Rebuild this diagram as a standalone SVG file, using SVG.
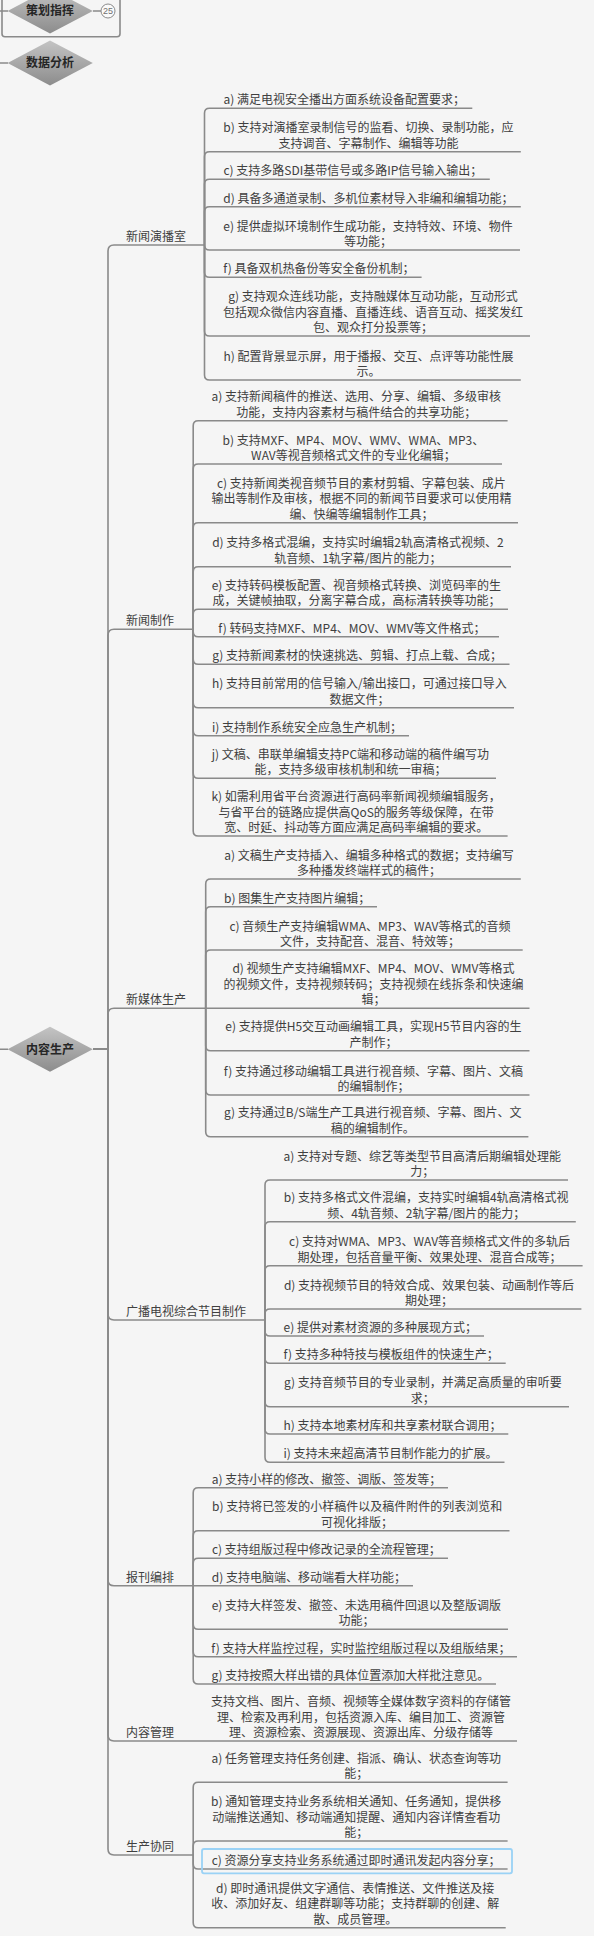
<svg xmlns="http://www.w3.org/2000/svg" width="594" height="1936" viewBox="0 0 594 1936">
<defs>
<linearGradient id="dg" x1="0" y1="0" x2="0" y2="1">
<stop offset="0" stop-color="#c4c4c4"/>
<stop offset="1" stop-color="#8c8c8c"/>
</linearGradient>
<style>
.ln{fill:none;stroke:#8a8a8a;stroke-width:1.6}
.t{font-family:"Noto Sans CJK SC","Noto Sans",sans-serif;font-size:12px;fill:#404040;text-anchor:middle}
.dt{font-family:"Noto Sans CJK SC","Noto Sans",sans-serif;font-size:12px;font-weight:bold;fill:#262626;text-anchor:middle}
.dm{fill:url(#dg)}
</style>
</defs>
<rect width="594" height="1936" fill="#f5f5f5"/>

<g id="connectors">
<rect x="2" y="-20" width="118" height="56.7" rx="3" class="ln" stroke="#9a9a9a"/>
<path class="ln" d="M0 11H8M93 11H101M0 63H8M0 1049.3H8"/>
<!-- trunk -->
<path class="ln" d="M93 1049.3H108V251Q108 245 114 245H204.5"/>
<path class="ln" d="M93 1049.3H108V635.3Q108 629.3 114 629.3H193.2"/>
<path class="ln" d="M93 1049.3H108V1014.3Q108 1008.3 114 1008.3H205.7"/>
<path class="ln" d="M93 1049.3H108V1314Q108 1320 114 1320H265"/>
<path class="ln" d="M93 1049.3H108V1579.7Q108 1585.7 114 1585.7H193.2"/>
<path class="ln" d="M93 1049.3H108V1735Q108 1741 114 1741H517"/>
<path class="ln" d="M93 1049.3H108V1849Q108 1855 114 1855H193.2"/>
<!-- 新闻演播室 -->
<path class="ln" d="M204.5 245V113.3Q204.5 108.3 209.5 108.3H472.3"/>
<path class="ln" d="M204.5 245V156.7Q204.5 151.7 209.5 151.7H520.8"/>
<path class="ln" d="M204.5 245V184.3Q204.5 179.3 209.5 179.3H489.8"/>
<path class="ln" d="M204.5 245V211.7Q204.5 206.7 209.5 206.7H520.8"/>
<path class="ln" d="M204.5 245Q204.5 250 209.5 250H520"/>
<path class="ln" d="M204.5 245V272.3Q204.5 277.3 209.5 277.3H421.6"/>
<path class="ln" d="M204.5 245V331Q204.5 336 209.5 336H530"/>
<path class="ln" d="M204.5 245V375Q204.5 380 209.5 380H520.8"/>
<!-- 新闻制作 -->
<path class="ln" d="M193.2 629.3V425.7Q193.2 420.7 198.2 420.7H507.6"/>
<path class="ln" d="M193.2 629.3V469Q193.2 464 198.2 464H502"/>
<path class="ln" d="M193.2 629.3V527.7Q193.2 522.7 198.2 522.7H518"/>
<path class="ln" d="M193.2 629.3V571.7Q193.2 566.7 198.2 566.7H511"/>
<path class="ln" d="M193.2 629.3V614.3Q193.2 609.3 198.2 609.3H508"/>
<path class="ln" d="M193.2 629.3V631.7Q193.2 636.7 198.2 636.7H499"/>
<path class="ln" d="M193.2 629.3V659.3Q193.2 664.3 198.2 664.3H509.5"/>
<path class="ln" d="M193.2 629.3V702.7Q193.2 707.7 198.2 707.7H514"/>
<path class="ln" d="M193.2 629.3V730.7Q193.2 735.7 198.2 735.7H409"/>
<path class="ln" d="M193.2 629.3V773.3Q193.2 778.3 198.2 778.3H496"/>
<path class="ln" d="M193.2 629.3V831Q193.2 836 198.2 836H507.6"/>
<!-- 新媒体生产 -->
<path class="ln" d="M205.7 1008.3V884Q205.7 879 210.7 879H520.8"/>
<path class="ln" d="M205.7 1008.3V911.7Q205.7 906.7 210.7 906.7H377"/>
<path class="ln" d="M205.7 1008.3V955Q205.7 950 210.7 950H522.7"/>
<path class="ln" d="M205.7 1008.3H529.5"/>
<path class="ln" d="M205.7 1008.3V1045.7Q205.7 1050.7 210.7 1050.7H529.5"/>
<path class="ln" d="M205.7 1008.3V1090Q205.7 1095 210.7 1095H529.5"/>
<path class="ln" d="M205.7 1008.3V1131.7Q205.7 1136.7 210.7 1136.7H528.4"/>
<!-- 广播电视综合节目制作 -->
<path class="ln" d="M265 1320V1185Q265 1180 270 1180H568"/>
<path class="ln" d="M265 1320V1226.7Q265 1221.7 270 1221.7H575.8"/>
<path class="ln" d="M265 1320V1270.7Q265 1265.7 270 1265.7H582.6"/>
<path class="ln" d="M265 1320V1314Q265 1309 270 1309H581.4"/>
<path class="ln" d="M265 1320V1331Q265 1336 270 1336H484"/>
<path class="ln" d="M265 1320V1358.3Q265 1363.3 270 1363.3H505.7"/>
<path class="ln" d="M265 1320V1401.7Q265 1406.7 270 1406.7H569"/>
<path class="ln" d="M265 1320V1429Q265 1434 270 1434H508.3"/>
<path class="ln" d="M265 1320V1457.3Q265 1462.3 270 1462.3H504.5"/>
<!-- 报刊编排 -->
<path class="ln" d="M193.2 1585.7V1492.7Q193.2 1487.7 198.2 1487.7H448"/>
<path class="ln" d="M193.2 1585.7V1535.7Q193.2 1530.7 198.2 1530.7H509.5"/>
<path class="ln" d="M193.2 1585.7V1563.3Q193.2 1558.3 198.2 1558.3H448"/>
<path class="ln" d="M193.2 1585.7H413"/>
<path class="ln" d="M193.2 1585.7V1624.3Q193.2 1629.3 198.2 1629.3H508"/>
<path class="ln" d="M193.2 1585.7V1651.7Q193.2 1656.7 198.2 1656.7H517"/>
<path class="ln" d="M193.2 1585.7V1679Q193.2 1684 198.2 1684H496"/>
<!-- 生产协同 -->
<path class="ln" d="M193.2 1855V1787.3Q193.2 1782.3 198.2 1782.3H507.6"/>
<path class="ln" d="M193.2 1855V1846Q193.2 1841 198.2 1841H507.6"/>
<path class="ln" d="M193.2 1855V1864Q193.2 1869 198.2 1869H507.6"/>
<path class="ln" d="M193.2 1855V1922.7Q193.2 1927.7 198.2 1927.7H505.7"/>
</g>

<g id="n-cehua">
<path class="dm" d="M7.6 11L50 -11.5L92.8 11L50 33.5Z"/>
<text class="dt" x="50" y="15.3">策划指挥</text>
</g>
<g id="n-25">
<circle cx="108" cy="11" r="7" fill="#fafafa" stroke="#8a8a8a" stroke-width="1"/>
<text x="108" y="14" font-family="Liberation Sans, sans-serif" font-size="9" fill="#707070" text-anchor="middle">25</text>
</g>
<g id="n-shuju">
<path class="dm" d="M7.6 63L50 40.5L92.8 63L50 85.5Z"/>
<text class="dt" x="50" y="67.3">数据分析</text>
</g>
<g id="n-neirong">
<path class="dm" d="M7.6 1049.3L50 1026.8L92.8 1049.3L50 1071.8Z"/>
<text class="dt" x="50" y="1053.6">内容生产</text>
</g>

<g id="b-yanbo"><text class="t" x="156" y="241.1">新闻演播室</text></g>
<g id="b-zhizuo"><text class="t" x="150" y="625.4">新闻制作</text></g>
<g id="b-xinmeiti"><text class="t" x="156" y="1004.4">新媒体生产</text></g>
<g id="b-guangbo"><text class="t" x="186" y="1316.1">广播电视综合节目制作</text></g>
<g id="b-baokan"><text class="t" x="150" y="1581.8">报刊编排</text></g>
<g id="b-guanli"><text class="t" x="150" y="1737.1">内容管理</text></g>
<g id="b-xietong"><text class="t" x="150" y="1851.1">生产协同</text></g>

<g id="yb-a"><text class="t" x="344.2" y="104.4">a) 满足电视安全播出方面系统设备配置要求；</text></g>
<g id="yb-b"><text class="t" x="368.4" y="132.3">b) 支持对演播室录制信号的监看、切换、录制功能，应<tspan x="368.4" dy="15.5">支持调音、字幕制作、编辑等功能</tspan></text></g>
<g id="yb-c"><text class="t" x="352.9" y="175.4">c) 支持多路SDI基带信号或多路IP信号输入输出；</text></g>
<g id="yb-d"><text class="t" x="368.4" y="202.8">d) 具备多通道录制、多机位素材导入非编和编辑功能；</text></g>
<g id="yb-e"><text class="t" x="368" y="230.6">e) 提供虚拟环境制作生成功能，支持特效、环境、物件<tspan x="368" dy="15.5">等功能；</tspan></text></g>
<g id="yb-f"><text class="t" x="318.8" y="273.4">f) 具备双机热备份等安全备份机制；</text></g>
<g id="yb-g"><text class="t" x="373" y="301.1">g) 支持观众连线功能，支持融媒体互动功能，互动形式<tspan x="373" dy="15.5">包括观众微信内容直播、直播连线、语音互动、摇奖发红</tspan><tspan x="373" dy="15.5">包、观众打分投票等；</tspan></text></g>
<g id="yb-h"><text class="t" x="368.4" y="360.6">h) 配置背景显示屏，用于播报、交互、点评等功能性展<tspan x="368.4" dy="15.5">示。</tspan></text></g>

<g id="zz-a"><text class="t" x="356.2" y="401.3">a) 支持新闻稿件的推送、选用、分享、编辑、多级审核<tspan x="356.2" dy="15.5">功能，支持内容素材与稿件结合的共享功能；</tspan></text></g>
<g id="zz-b"><text class="t" x="353.4" y="444.6">b) 支持MXF、MP4、MOV、WMV、WMA、MP3、<tspan x="353.4" dy="15.5">WAV等视音频格式文件的专业化编辑；</tspan></text></g>
<g id="zz-c"><text class="t" x="361.4" y="487.8">c) 支持新闻类视音频节目的素材剪辑、字幕包装、成片<tspan x="361.4" dy="15.5">输出等制作及审核，根据不同的新闻节目要求可以使用精</tspan><tspan x="361.4" dy="15.5">编、快编等编辑制作工具；</tspan></text></g>
<g id="zz-d"><text class="t" x="357.9" y="547.3">d) 支持多格式混编，支持实时编辑2轨高清格式视频、2<tspan x="357.9" dy="15.5">轨音频、1轨字幕/图片的能力；</tspan></text></g>
<g id="zz-e"><text class="t" x="356.4" y="589.9">e) 支持转码模板配置、视音频格式转换、浏览码率的生<tspan x="356.4" dy="15.5">成，关键帧抽取，分离字幕合成，高标清转换等功能；</tspan></text></g>
<g id="zz-f"><text class="t" x="351.9" y="632.8">f) 转码支持MXF、MP4、MOV、WMV等文件格式；</text></g>
<g id="zz-g"><text class="t" x="357.1" y="660.4">g) 支持新闻素材的快速挑选、剪辑、打点上载、合成；</text></g>
<g id="zz-h"><text class="t" x="359.4" y="688.3">h) 支持目前常用的信号输入/输出接口，可通过接口导入<tspan x="359.4" dy="15.5">数据文件；</tspan></text></g>
<g id="zz-i"><text class="t" x="306.9" y="731.8">i) 支持制作系统安全应急生产机制；</text></g>
<g id="zz-j"><text class="t" x="350.4" y="758.9">j) 文稿、串联单编辑支持PC端和移动端的稿件编写功<tspan x="350.4" dy="15.5">能，支持多级审核机制和统一审稿；</tspan></text></g>
<g id="zz-k"><text class="t" x="356.2" y="801.1">k) 如需利用省平台资源进行高码率新闻视频编辑服务，<tspan x="356.2" dy="15.5">与省平台的链路应提供高QoS的服务等级保障，在带</tspan><tspan x="356.2" dy="15.5">宽、时延、抖动等方面应满足高码率编辑的要求。</tspan></text></g>

<g id="xm-a"><text class="t" x="369" y="859.6">a) 文稿生产支持插入、编辑多种格式的数据；支持编写<tspan x="369" dy="15.5">多种播发终端样式的稿件；</tspan></text></g>
<g id="xm-b"><text class="t" x="297.1" y="902.8">b) 图集生产支持图片编辑；</text></g>
<g id="xm-c"><text class="t" x="370" y="930.6">c) 音频生产支持编辑WMA、MP3、WAV等格式的音频<tspan x="370" dy="15.5">文件，支持配音、混音、特效等；</tspan></text></g>
<g id="xm-d"><text class="t" x="373.4" y="973.4">d) 视频生产支持编辑MXF、MP4、MOV、WMV等格式<tspan x="373.4" dy="15.5">的视频文件，支持视频转码；支持视频在线拆条和快速编</tspan><tspan x="373.4" dy="15.5">辑；</tspan></text></g>
<g id="xm-e"><text class="t" x="373.4" y="1031.3">e) 支持提供H5交互动画编辑工具，实现H5节目内容的生<tspan x="373.4" dy="15.5">产制作；</tspan></text></g>
<g id="xm-f"><text class="t" x="373.4" y="1075.6">f) 支持通过移动编辑工具进行视音频、字幕、图片、文稿<tspan x="373.4" dy="15.5">的编辑制作；</tspan></text></g>
<g id="xm-g"><text class="t" x="372.8" y="1117.3">g) 支持通过B/S端生产工具进行视音频、字幕、图片、文<tspan x="372.8" dy="15.5">稿的编辑制作。</tspan></text></g>

<g id="gb-a"><text class="t" x="422.3" y="1160.6">a) 支持对专题、综艺等类型节目高清后期编辑处理能<tspan x="422.3" dy="15.5">力；</tspan></text></g>
<g id="gb-b"><text class="t" x="426.2" y="1202.3">b) 支持多格式文件混编，支持实时编辑4轨高清格式视<tspan x="426.2" dy="15.5">频、4轨音频、2轨字幕/图片的能力；</tspan></text></g>
<g id="gb-c"><text class="t" x="429.6" y="1246.3">c) 支持对WMA、MP3、WAV等音频格式文件的多轨后<tspan x="429.6" dy="15.5">期处理，包括音量平衡、效果处理、混音合成等；</tspan></text></g>
<g id="gb-d"><text class="t" x="429" y="1289.6">d) 支持视频节目的特效合成、效果包装、动画制作等后<tspan x="429" dy="15.5">期处理；</tspan></text></g>
<g id="gb-e"><text class="t" x="380.3" y="1332.1">e) 提供对素材资源的多种展现方式；</text></g>
<g id="gb-f"><text class="t" x="391.1" y="1359.4">f) 支持多种特技与模板组件的快速生产；</text></g>
<g id="gb-g"><text class="t" x="422.8" y="1387.3">g) 支持音频节目的专业录制，并满足高质量的审听要<tspan x="422.8" dy="15.5">求；</tspan></text></g>
<g id="gb-h"><text class="t" x="392.4" y="1430.1">h) 支持本地素材库和共享素材联合调用；</text></g>
<g id="gb-i"><text class="t" x="390.5" y="1458.4">i) 支持未来超高清节目制作能力的扩展。</text></g>

<g id="bk-a"><text class="t" x="326.4" y="1483.8">a) 支持小样的修改、撤签、调版、签发等；</text></g>
<g id="bk-b"><text class="t" x="357.1" y="1511.3">b) 支持将已签发的小样稿件以及稿件附件的列表浏览和<tspan x="357.1" dy="15.5">可视化排版；</tspan></text></g>
<g id="bk-c"><text class="t" x="326.4" y="1554.4">c) 支持组版过程中修改记录的全流程管理；</text></g>
<g id="bk-d"><text class="t" x="308.9" y="1581.8">d) 支持电脑端、移动端看大样功能；</text></g>
<g id="bk-e"><text class="t" x="356.4" y="1609.9">e) 支持大样签发、撤签、未选用稿件回退以及整版调版<tspan x="356.4" dy="15.5">功能；</tspan></text></g>
<g id="bk-f"><text class="t" x="360.9" y="1652.8">f) 支持大样监控过程，实时监控组版过程以及组版结果；</text></g>
<g id="bk-g"><text class="t" x="350.4" y="1680.1">g) 支持按照大样出错的具体位置添加大样批注意见。</text></g>

<g id="gl-a"><text class="t" x="360.9" y="1706.1">支持文档、图片、音频、视频等全媒体数字资料的存储管<tspan x="360.9" dy="15.5">理、检索及再利用，包括资源入库、编目加工、资源管</tspan><tspan x="360.9" dy="15.5">理、资源检索、资源展现、资源出库、分级存储等</tspan></text></g>

<g id="xt-a"><text class="t" x="356.2" y="1762.9">a) 任务管理支持任务创建、指派、确认、状态查询等功<tspan x="356.2" dy="15.5">能；</tspan></text></g>
<g id="xt-b"><text class="t" x="356.2" y="1806.1">b) 通知管理支持业务系统相关通知、任务通知，提供移<tspan x="356.2" dy="15.5">动端推送通知、移动端通知提醒、通知内容详情查看功</tspan><tspan x="356.2" dy="15.5">能；</tspan></text></g>
<g id="xt-c">
<rect x="202" y="1849" width="310" height="24.3" rx="2" fill="none" stroke="#9ad2f6" stroke-width="1.8"/>
<text class="t" x="356.2" y="1865.1">c) 资源分享支持业务系统通过即时通讯发起内容分享；</text></g>
<g id="xt-d"><text class="t" x="355.2" y="1892.8">d) 即时通讯提供文字通信、表情推送、文件推送及接<tspan x="355.2" dy="15.5">收、添加好友、组建群聊等功能；支持群聊的创建、解</tspan><tspan x="355.2" dy="15.5">散、成员管理。</tspan></text></g>
</svg>
